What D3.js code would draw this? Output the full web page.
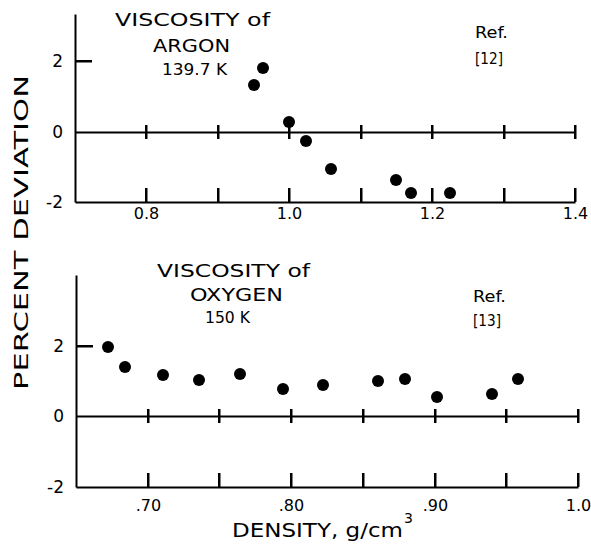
<!DOCTYPE html>
<html>
<head>
<meta charset="utf-8">
<script src="https://cdn.jsdelivr.net/npm/d3@7"></script>
<style>
  body { margin: 0; background: #fff; }
  svg { display: block; }
  svg text { font-family: "DejaVu Sans", sans-serif; fill: #000; }
</style>
</head>
<body>
<div id="viz"></div>
<script>
// argon, 139.7 K (Ref. [12])
var argonDensity = [0.951, 0.9625, 0.999, 1.023, 1.058, 1.149, 1.171, 1.225];
var argonDev     = [1.33, 1.80, 0.29, -0.27, -1.05, -1.38, -1.74, -1.74];

// oxygen, 150 K (Ref. [13])
var oxygenDensity = [0.672, 0.684, 0.7105, 0.7355, 0.764, 0.7945, 0.822, 0.8605, 0.8795, 0.902, 0.940, 0.9585];
var oxygenDev     = [1.96, 1.40, 1.16, 1.02, 1.21, 0.76, 0.90, 0.99, 1.07, 0.55, 0.64, 1.07];

var argonTicks  = [0.8, 0.9, 1.0, 1.1, 1.2, 1.3, 1.4];
var argonLabels = ["0.8", "", "1.0", "", "1.2", "", "1.4"];
var oxygenTicks  = [0.70, 0.75, 0.80, 0.85, 0.90, 0.95, 1.0];
var oxygenLabels = [".70", "", ".80", "", ".90", "", "1.0"];
var devTicks  = [-2, 0, 2];
var devLabels = ["-2", "0", "2"];

var width = 591, height = 546;

var svg = d3.select("#viz").append("svg")
    .attr("width", width)
    .attr("height", height);

function drawPanel(p) {
  var x = d3.scaleLinear().domain(p.xDomain).rangeRound(p.xRange);
  var y = d3.scaleLinear().domain(p.yDomain).rangeRound(p.yRange);
  var g = svg.append("g");

  var bottom = g.append("g")
      .attr("transform", "translate(0," + y(-2) + ")")
      .call(d3.axisBottom(x).tickValues(p.ticks).tickSize(0)
            .tickPadding(p.labelPad)
            .tickFormat(function(d, i) { return p.labels[i]; }));

  var zero = g.append("g")
      .attr("transform", "translate(0," + y(0) + ")")
      .call(d3.axisBottom(x).tickValues([]).tickSize(0));

  var left = g.append("g")
      .attr("transform", "translate(" + p.xRange[0] + ",0)")
      .call(d3.axisLeft(y).tickValues(devTicks).tickSize(0)
            .tickPadding(12)
            .tickFormat(function(d, i) { return devLabels[i]; }));

  [bottom, zero, left].forEach(function(a) {
    a.selectAll("path").attr("stroke", "#000").attr("stroke-width", 2).attr("fill", "none");
  });
  bottom.selectAll("text").attr("font-size", 16).style("font-family", "DejaVu Sans");
  left.selectAll("text").attr("font-size", 17).style("font-family", "DejaVu Sans");

  // tick marks drawn as thin filled bars
  g.selectAll(".tickUp")
    .data(p.ticks)
    .enter().append("rect")
      .attr("class", "tickUp")
      .attr("x", function(t) { return x(t) - 1; })
      .attr("y", y(-2) - 14)
      .attr("width", 2.5)
      .attr("height", 14)
      .attr("fill", "#000");
  g.selectAll(".tickCross")
    .data(p.ticks)
    .enter().append("rect")
      .attr("class", "tickCross")
      .attr("x", function(t) { return x(t) - 1; })
      .attr("y", y(0) - 7)
      .attr("width", 2.5)
      .attr("height", 14)
      .attr("fill", "#000");
  g.append("rect")
    .attr("x", p.xRange[0])
    .attr("y", y(2) - 1)
    .attr("width", 17)
    .attr("height", 2.5)
    .attr("fill", "#000");

  g.selectAll(".dot")
    .data(p.xs)
    .enter().append("circle")
      .attr("class", "dot")
      .attr("cx", function(d) { return x(d); })
      .attr("cy", function(d, i) { return y(p.ys[i]); })
      .attr("r", 6)
      .attr("fill", "#000");

  p.titles.forEach(function(t) {
    g.append("text")
      .attr("x", t.x).attr("y", t.y)
      .attr("font-size", t.size)
      .attr("textLength", t.w)
      .attr("lengthAdjust", "spacingAndGlyphs")
      .text(t.text);
  });
}

drawPanel({
  xDomain: [0.7, 1.4], xRange: [75, 575],
  yDomain: [-2, 3.35], yRange: [202, 14],
  ticks: argonTicks, labels: argonLabels, labelPad: 6,
  xs: argonDensity, ys: argonDev,
  titles: [
    {text: "VISCOSITY of", x: 115, y: 26, w: 155, size: 17},
    {text: "ARGON", x: 153, y: 52, w: 77, size: 17},
    {text: "139.7 K", x: 162, y: 75, w: 65, size: 15.5},
    {text: "Ref.", x: 475, y: 38, w: 33, size: 15},
    {text: "[12]", x: 475, y: 64, w: 28, size: 15}
  ]
});

drawPanel({
  xDomain: [0.65, 1.0], xRange: [76, 578],
  yDomain: [-2, 4.0], yRange: [487, 275],
  ticks: oxygenTicks, labels: oxygenLabels, labelPad: 13,
  xs: oxygenDensity, ys: oxygenDev,
  titles: [
    {text: "VISCOSITY of", x: 157, y: 277, w: 153, size: 17.5},
    {text: "OXYGEN", x: 190, y: 301, w: 93, size: 17.5},
    {text: "150 K", x: 205, y: 323, w: 45, size: 15.5},
    {text: "Ref.", x: 473, y: 302, w: 33, size: 15},
    {text: "[13]", x: 473, y: 326, w: 28, size: 15}
  ]
});

svg.append("text")
  .attr("transform", "translate(28,0) rotate(-90)")
  .attr("x", -390).attr("y", 0)
  .attr("font-size", 20)
  .attr("textLength", 315)
  .attr("lengthAdjust", "spacingAndGlyphs")
  .text("PERCENT DEVIATION");

svg.append("text")
  .attr("x", 232).attr("y", 537)
  .attr("font-size", 20)
  .attr("textLength", 171)
  .attr("lengthAdjust", "spacingAndGlyphs")
  .text("DENSITY, g/cm");
svg.append("text")
  .attr("x", 404).attr("y", 523)
  .attr("font-size", 14)
  .text("3");
</script>
</body>
</html>
